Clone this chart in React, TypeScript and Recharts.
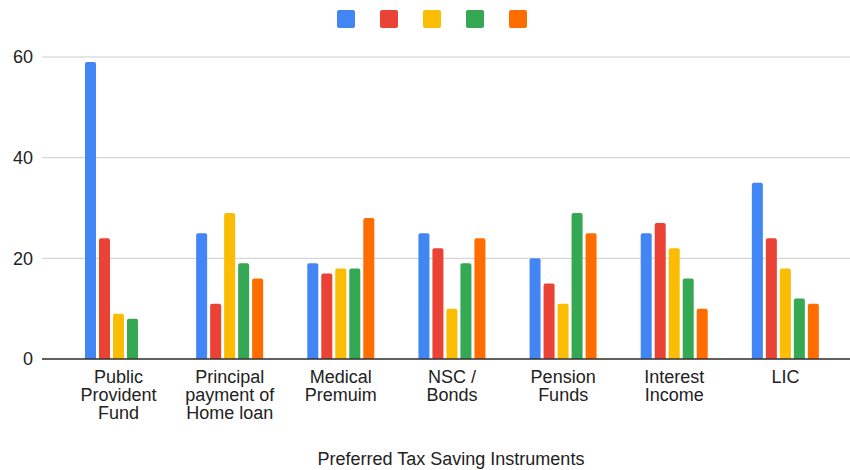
import { BarChart, Bar, XAxis, YAxis, CartesianGrid, Legend, Label } from 'recharts';

const categories = [
  'Public Provident Fund',
  'Principal payment of Home loan',
  'Medical Premuim',
  'NSC / Bonds',
  'Pension Funds',
  'Interest Income',
  'LIC',
];

// wrapped tick text, one entry per category
const tickLines = [
  ['Public', 'Provident', 'Fund'],
  ['Principal', 'payment of', 'Home loan'],
  ['Medical', 'Premuim'],
  ['NSC /', 'Bonds'],
  ['Pension', 'Funds'],
  ['Interest', 'Income'],
  ['LIC'],
];

const series1 = [59, 25, 19, 25, 20, 25, 35];
const series2 = [24, 11, 17, 22, 15, 27, 24];
const series3 = [9, 29, 18, 10, 11, 22, 18];
const series4 = [8, 19, 18, 19, 29, 16, 12];
const series5 = [0, 16, 28, 24, 25, 10, 11];

const yTicks = [0, 20, 40, 60];

const SERIES = [
  { key: 's1', color: '#4285F4' },
  { key: 's2', color: '#EA4335' },
  { key: 's3', color: '#FBBC04' },
  { key: 's4', color: '#34A853' },
  { key: 's5', color: '#FF6D01' },
];

const data = categories.map((name, i) => ({
  name,
  s1: series1[i],
  s2: series2[i],
  s3: series3[i],
  s4: series4[i],
  s5: series5[i],
}));

const FONT = 'Arial, "Liberation Sans", sans-serif';

function CategoryTick({ x, y, payload }: any) {
  const idx = categories.indexOf(payload.value);
  const lines = tickLines[idx] || [payload.value];
  return (
    <text x={x} y={y} textAnchor="middle" fill="#222" fontSize={18} fontFamily={FONT}>
      {lines.map((line, i) => (
        <tspan key={i} x={x} dy={i === 0 ? 16 : 18}>
          {line}
        </tspan>
      ))}
    </text>
  );
}

function SquareLegend() {
  return (
    <div style={{ display: 'flex', justifyContent: 'center', gap: 25, height: 18, paddingLeft: 14 }}>
      {SERIES.map((s) => (
        <div key={s.key} style={{ width: 18, height: 18, borderRadius: 2, background: s.color }} />
      ))}
    </div>
  );
}

export default function App() {
  return (
    <div style={{ position: 'absolute', left: 0, top: 0, width: 850, height: 470, background: '#fff' }}>
      <BarChart
        width={850}
        height={470}
        data={data}
        margin={{ top: 39, right: 0, bottom: 0, left: 0 }}
        barSize={11}
        barGap={3}
      >
        <Legend verticalAlign="top" content={<SquareLegend />} wrapperStyle={{ top: 10 }} />
        <CartesianGrid vertical={false} stroke="#cccccc" />
        <XAxis
          dataKey="name"
          height={111}
          padding={{ left: 21, right: 9 }}
          tickLine={false}
          axisLine={{ stroke: '#333', strokeWidth: 1.5 }}
          tick={<CategoryTick />}
          interval={0}
        >
          <Label
            value="Preferred Tax Saving Instruments"
            position="insideBottom"
            offset={5}
            dx={5}
            style={{ fontSize: 18, fill: '#222', fontFamily: FONT }}
          />
        </XAxis>
        <YAxis
          width={42}
          domain={[0, 60]}
          ticks={yTicks}
          tickLine={false}
          axisLine={false}
          tickMargin={3}
          tick={{ fontSize: 18, fill: '#222', fontFamily: FONT }}
        />
        {SERIES.map((s) => (
          <Bar key={s.key} dataKey={s.key} fill={s.color} radius={[2, 2, 0, 0]} isAnimationActive={false} />
        ))}
      </BarChart>
    </div>
  );
}
